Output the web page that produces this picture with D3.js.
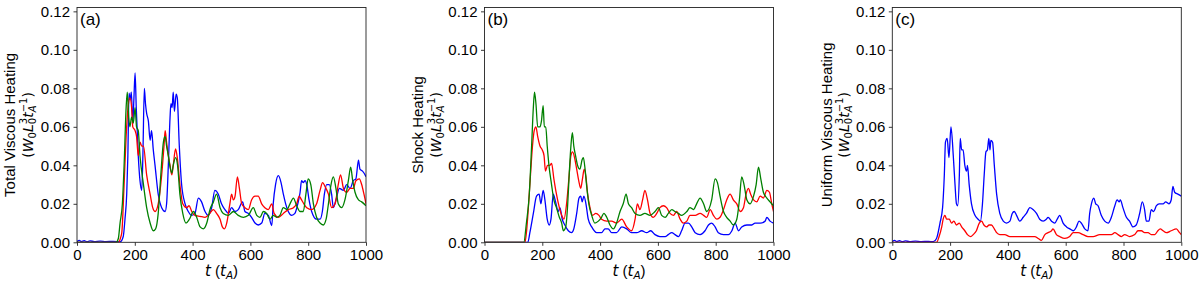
<!DOCTYPE html>
<html>
<head>
<meta charset="utf-8">
<script src="https://cdn.jsdelivr.net/npm/d3@7"></script>
<style>
  body { margin: 0; background: #fff; }
  svg { display: block; }
  text { font-family: "Liberation Sans", Arial, sans-serif; fill: #000; }
</style>
</head>
<body>
<svg id="chart"></svg>
<script>
(function(d3) {
  "use strict";

  /***** Données *****/
  var xTicks = [0, 200, 400, 600, 800, 1000];
  var yTicks = [0, 0.02, 0.04, 0.06, 0.08, 0.10, 0.12];
  var panelTags = ["(a)", "(b)", "(c)"];
  var panelTitles = ["Total Viscous Heating", "Shock Heating", "Uniform Viscous Heating"];

  var totalBlue = [[0,0.0003],[8,0.001],[15,0.0004],[25,0.0008],[35,0.0003],[45,0.0007],[60,0.0004],[80,0.0006],[100,0.0004],[125,0.0005],[150,0.0003],[160,0.003],[166,0.012],[172,0.025],[176,0.045],[180,0.0775],[184,0.074],[188,0.078],[193,0.062],[197,0.075],[201,0.088],[205,0.07],[212,0.045],[218,0.032],[224,0.027],[228,0.045],[233,0.080],[237,0.072],[241,0.067],[247,0.063],[253,0.053],[258,0.058],[264,0.048],[270,0.040],[281,0.025],[293,0.018],[305,0.016],[310,0.020],[316,0.040],[322,0.065],[325,0.072],[329,0.070],[333,0.078],[337,0.068],[343,0.077],[347,0.075],[354,0.050],[362,0.030],[374,0.020],[385,0.016],[397,0.014],[408,0.015],[420,0.023],[431,0.021],[443,0.016],[454,0.014],[466,0.018],[477,0.027],[489,0.025],[500,0.020],[512,0.017],[524,0.015],[535,0.018],[547,0.016],[558,0.017],[573,0.021],[581,0.016],[593,0.015],[604,0.013],[616,0.010],[627,0.009],[639,0.010],[650,0.015],[662,0.014],[674,0.0087],[679,0.020],[687,0.030],[697,0.0346],[706,0.031],[714,0.025],[722,0.020],[731,0.016],[743,0.014],[754,0.015],[764,0.020],[772,0.026],[777,0.032],[783,0.031],[789,0.032],[795,0.030],[803,0.022],[812,0.016],[829,0.012],[841,0.012],[849,0.016],[856,0.025],[864,0.030],[873,0.030],[881,0.025],[887,0.018],[896,0.022],[908,0.028],[922,0.027],[933,0.030],[945,0.028],[956,0.032],[965,0.033],[974,0.0427],[979,0.038],[988,0.037],[997,0.035],[1000,0.034]];
  var totalRed = [[0,0],[145,0],[150,0.002],[155,0.005],[163,0.030],[170,0.055],[178,0.072],[183,0.075],[189,0.070],[193,0.060],[201,0.058],[206,0.055],[212,0.045],[218,0.052],[224,0.050],[230,0.050],[241,0.035],[253,0.025],[262,0.018],[270,0.016],[281,0.020],[293,0.035],[301,0.050],[305,0.058],[310,0.052],[316,0.045],[322,0.040],[328,0.035],[333,0.040],[341,0.0485],[347,0.044],[356,0.030],[366,0.020],[379,0.018],[388,0.019],[397,0.016],[408,0.014],[426,0.0135],[443,0.013],[454,0.014],[472,0.017],[483,0.015],[495,0.012],[503,0.008],[510,0.007],[518,0.010],[529,0.020],[535,0.025],[541,0.022],[547,0.024],[555,0.034],[562,0.028],[570,0.020],[581,0.018],[593,0.017],[604,0.022],[616,0.024],[627,0.024],[639,0.020],[650,0.018],[662,0.017],[674,0.020],[682,0.015],[697,0.013],[714,0.015],[731,0.017],[749,0.018],[760,0.020],[769,0.024],[777,0.022],[785,0.020],[795,0.018],[812,0.017],[829,0.020],[841,0.027],[850,0.031],[858,0.029],[870,0.025],[881,0.018],[893,0.020],[904,0.030],[912,0.035],[922,0.028],[933,0.026],[945,0.028],[956,0.028],[965,0.032],[977,0.033],[985,0.030],[993,0.025],[1000,0.020]];
  var totalGreen = [[0,0],[135,0],[143,0.002],[149,0.010],[157,0.020],[163,0.040],[170,0.070],[174,0.078],[179,0.065],[183,0.060],[189,0.065],[195,0.062],[201,0.070],[206,0.060],[212,0.058],[218,0.045],[230,0.030],[241,0.018],[253,0.010],[264,0.006],[272,0.007],[281,0.015],[290,0.035],[299,0.052],[305,0.055],[310,0.050],[316,0.045],[322,0.039],[328,0.036],[333,0.040],[341,0.044],[348,0.040],[356,0.025],[366,0.015],[377,0.010],[389,0.012],[403,0.016],[414,0.013],[426,0.008],[437,0.007],[449,0.010],[460,0.017],[472,0.021],[483,0.025],[495,0.018],[506,0.015],[524,0.014],[541,0.016],[558,0.014],[576,0.013],[593,0.014],[610,0.018],[622,0.014],[633,0.013],[645,0.016],[656,0.015],[668,0.012],[679,0.014],[691,0.013],[702,0.014],[714,0.018],[726,0.017],[737,0.020],[749,0.023],[760,0.019],[772,0.016],[783,0.016],[792,0.025],[800,0.033],[809,0.030],[818,0.020],[829,0.013],[841,0.010],[852,0.009],[862,0.012],[870,0.020],[879,0.030],[887,0.034],[896,0.028],[904,0.020],[916,0.018],[927,0.022],[939,0.032],[947,0.039],[954,0.032],[962,0.026],[974,0.022],[985,0.021],[1000,0.019]];

  var shockBlue = [[0,0],[150,0],[157,0.005],[169,0.015],[180,0.024],[189,0.025],[195,0.020],[203,0.027],[209,0.022],[217,0.012],[224,0.009],[230,0.012],[238,0.025],[246,0.021],[255,0.016],[261,0.018],[269,0.012],[278,0.009],[290,0.006],[301,0.005],[309,0.007],[319,0.015],[327,0.023],[333,0.024],[338,0.021],[344,0.024],[351,0.020],[359,0.012],[371,0.008],[388,0.005],[405,0.005],[417,0.007],[428,0.007],[440,0.005],[457,0.005],[475,0.008],[492,0.007],[509,0.005],[527,0.005],[544,0.006],[561,0.005],[575,0.006],[590,0.004],[607,0.003],[625,0.003],[636,0.004],[648,0.005],[659,0.004],[671,0.003],[682,0.006],[694,0.010],[706,0.010],[717,0.008],[729,0.005],[746,0.004],[763,0.006],[775,0.009],[786,0.010],[798,0.008],[809,0.005],[827,0.004],[844,0.004],[856,0.006],[867,0.010],[879,0.006],[890,0.008],[908,0.009],[925,0.009],[936,0.010],[954,0.010],[971,0.011],[977,0.013],[988,0.011],[1000,0.010]];
  var shockRed = [[0,0],[140,0],[145,0.005],[157,0.030],[166,0.050],[172,0.058],[178,0.060],[184,0.055],[192,0.050],[200,0.048],[206,0.045],[211,0.037],[218,0.040],[226,0.040],[232,0.041],[240,0.033],[249,0.025],[259,0.018],[267,0.014],[275,0.012],[284,0.020],[293,0.035],[299,0.045],[305,0.047],[313,0.043],[319,0.038],[326,0.032],[333,0.028],[339,0.033],[345,0.038],[351,0.034],[357,0.025],[365,0.018],[374,0.014],[385,0.015],[396,0.014],[405,0.012],[423,0.011],[440,0.011],[457,0.010],[475,0.012],[492,0.008],[509,0.006],[521,0.012],[529,0.020],[538,0.017],[547,0.022],[555,0.027],[564,0.022],[573,0.015],[584,0.013],[596,0.015],[607,0.018],[619,0.019],[630,0.018],[642,0.015],[654,0.014],[665,0.016],[677,0.012],[688,0.010],[700,0.011],[711,0.014],[729,0.014],[746,0.015],[758,0.014],[769,0.013],[781,0.017],[792,0.014],[804,0.012],[815,0.013],[827,0.017],[838,0.022],[850,0.025],[861,0.022],[873,0.020],[885,0.016],[896,0.018],[905,0.025],[913,0.028],[921,0.025],[931,0.022],[942,0.021],[954,0.024],[965,0.023],[977,0.027],[986,0.026],[994,0.020],[1000,0.016]];
  var shockGreen = [[0,0],[136,0],[145,0.010],[155,0.025],[163,0.050],[169,0.070],[173,0.078],[178,0.072],[184,0.060],[192,0.060],[197,0.063],[203,0.071],[207,0.060],[212,0.060],[217,0.050],[223,0.040],[232,0.030],[240,0.022],[249,0.018],[259,0.013],[267,0.010],[273,0.006],[281,0.008],[288,0.020],[293,0.035],[299,0.050],[304,0.057],[309,0.050],[315,0.045],[322,0.040],[330,0.038],[338,0.043],[342,0.044],[348,0.038],[353,0.030],[361,0.020],[371,0.014],[382,0.010],[394,0.011],[405,0.013],[413,0.015],[423,0.013],[434,0.009],[446,0.007],[457,0.010],[469,0.016],[480,0.020],[490,0.025],[498,0.020],[509,0.018],[521,0.015],[538,0.014],[555,0.015],[573,0.014],[590,0.016],[602,0.018],[613,0.014],[625,0.013],[636,0.015],[648,0.017],[659,0.016],[671,0.015],[682,0.014],[700,0.016],[711,0.018],[723,0.017],[734,0.020],[746,0.023],[758,0.020],[769,0.016],[786,0.022],[798,0.033],[806,0.031],[815,0.024],[827,0.016],[838,0.013],[850,0.011],[861,0.009],[873,0.012],[882,0.022],[890,0.034],[898,0.030],[908,0.022],[919,0.020],[931,0.024],[940,0.030],[948,0.039],[956,0.033],[965,0.026],[977,0.023],[988,0.021],[1000,0.019]];

  var uniformBlue = [[0,0.0003],[8,0.001],[15,0.0004],[25,0.0008],[35,0.0003],[45,0.0007],[60,0.0004],[80,0.0006],[100,0.0004],[125,0.0005],[142,0.0003],[153,0.002],[165,0.010],[174,0.018],[180,0.035],[184,0.052],[190,0.054],[196,0.044],[203,0.060],[211,0.045],[217,0.030],[222,0.020],[226,0.019],[232,0.035],[235,0.054],[240,0.048],[245,0.048],[251,0.040],[257,0.037],[260,0.040],[266,0.030],[274,0.020],[286,0.014],[297,0.012],[305,0.011],[312,0.020],[318,0.035],[324,0.047],[329,0.048],[334,0.054],[338,0.048],[341,0.053],[347,0.052],[353,0.040],[361,0.025],[372,0.015],[384,0.011],[395,0.010],[407,0.011],[415,0.015],[422,0.016],[430,0.014],[441,0.011],[453,0.013],[464,0.015],[476,0.018],[487,0.017],[499,0.015],[510,0.012],[522,0.011],[533,0.012],[539,0.013],[551,0.011],[562,0.010],[574,0.013],[579,0.014],[591,0.010],[603,0.008],[614,0.007],[626,0.006],[637,0.008],[646,0.011],[654,0.010],[666,0.007],[677,0.006],[683,0.015],[689,0.020],[697,0.023],[704,0.020],[712,0.019],[723,0.014],[735,0.011],[747,0.010],[758,0.013],[770,0.019],[778,0.022],[785,0.021],[789,0.022],[798,0.018],[810,0.013],[821,0.011],[833,0.008],[844,0.009],[856,0.015],[865,0.021],[873,0.017],[879,0.011],[888,0.011],[896,0.017],[904,0.016],[914,0.019],[923,0.020],[937,0.020],[946,0.021],[957,0.020],[965,0.022],[971,0.029],[977,0.026],[988,0.025],[1000,0.024]];
  var uniformRed = [[0,0],[153,0],[162,0.003],[171,0.008],[176,0.012],[182,0.014],[188,0.012],[197,0.012],[205,0.010],[213,0.011],[222,0.009],[232,0.010],[240,0.008],[251,0.006],[260,0.004],[271,0.003],[280,0.004],[291,0.006],[301,0.010],[309,0.011],[317,0.009],[326,0.008],[335,0.009],[343,0.009],[353,0.007],[361,0.005],[372,0.004],[389,0.004],[407,0.003],[430,0.003],[453,0.003],[476,0.003],[493,0.003],[505,0.002],[516,0.001],[528,0.004],[539,0.005],[551,0.006],[556,0.007],[568,0.004],[579,0.003],[597,0.002],[614,0.003],[626,0.005],[643,0.005],[660,0.004],[677,0.003],[695,0.003],[718,0.004],[741,0.004],[758,0.004],[770,0.005],[781,0.004],[793,0.003],[804,0.004],[821,0.003],[839,0.004],[850,0.006],[862,0.006],[873,0.005],[885,0.005],[896,0.004],[908,0.004],[919,0.006],[927,0.007],[937,0.006],[948,0.005],[965,0.006],[983,0.007],[994,0.005],[1000,0.004]];

  /***** Configuration *****/
  var width = 1200, height = 284;
  var panelLeft = [77, 484.5, 892.3];
  var panelW = 289;
  var top = 7.5, bottom = 242.3;
  var yMax = 0.1220;

  var colors = { blue: "#0000ff", red: "#ff0000", green: "#008000" };

  var panels = [
    { tag: panelTags[0], title: panelTitles[0], labelX: [15, 33],
      series: [[totalBlue, colors.blue], [totalRed, colors.red], [totalGreen, colors.green]] },
    { tag: panelTags[1], title: panelTitles[1], labelX: [423, 441],
      series: [[shockBlue, colors.blue], [shockRed, colors.red], [shockGreen, colors.green]] },
    { tag: panelTags[2], title: panelTitles[2], labelX: [832, 849],
      series: [[uniformBlue, colors.blue], [uniformRed, colors.red]] }
  ];

  var svg = d3.select("#chart").attr("width", width).attr("height", height);

  var y = d3.scaleLinear().domain([0, yMax]).range([bottom, top]);
  var yc = (top + bottom) / 2;

  panels.forEach(function(p, i) {
    var x = d3.scaleLinear().domain([0, 1000]).range([panelLeft[i], panelLeft[i] + panelW]);
    var g = svg.append("g");

    g.append("clipPath").attr("id", "clip" + i)
      .append("rect")
      .attr("x", panelLeft[i]).attr("y", top)
      .attr("width", panelW).attr("height", bottom - top);

    // Courbes
    var line = d3.line()
      .x(function(d) { return x(d[0]); })
      .y(function(d) { return y(d[1]); })
      .curve(d3.curveMonotoneX);

    p.series.forEach(function(s) {
      g.append("path")
        .datum(s[0])
        .attr("clip-path", "url(#clip" + i + ")")
        .attr("fill", "none")
        .attr("stroke", s[1])
        .attr("stroke-width", 1.3)
        .attr("d", line);
    });

    // Axes
    var xAxis = d3.axisBottom(x).tickValues(xTicks).tickFormat(d3.format("d")).tickSize(3.5).tickSizeOuter(0).tickPadding(3.5);
    var yAxis = d3.axisLeft(y).tickValues(yTicks).tickFormat(d3.format(".2f")).tickSize(3.5).tickSizeOuter(0).tickPadding(3.5);

    var gx = g.append("g").attr("transform", "translate(0," + bottom + ")").call(xAxis);
    var gy = g.append("g").attr("transform", "translate(" + panelLeft[i] + ",0)").call(yAxis);
    [gx, gy].forEach(function(a) {
      a.select(".domain").remove();
      a.selectAll("line").attr("stroke", "#222").attr("stroke-width", 0.9);
      a.selectAll("text").style("font-size", "15px").style("font-family", "'Liberation Sans', Arial, sans-serif").attr("fill", "#000");
    });

    // Cadre
    g.append("rect")
      .attr("x", panelLeft[i]).attr("y", top)
      .attr("width", panelW).attr("height", bottom - top)
      .attr("fill", "none").attr("stroke", "#222").attr("stroke-width", 0.9);

    // Étiquette du panneau
    g.append("text")
      .attr("x", panelLeft[i] + 3).attr("y", top + 17)
      .style("font-size", "17px")
      .text(p.tag);

    // Titre de l'axe x : t (t_A)
    var xl = g.append("text")
      .attr("x", panelLeft[i] + panelW / 2).attr("y", 276)
      .attr("text-anchor", "middle")
      .style("font-size", "15px");
    xl.append("tspan").style("font-family", "'DejaVu Sans'").style("font-style", "italic").text("t");
    xl.append("tspan").text(" (");
    xl.append("tspan").style("font-family", "'DejaVu Sans'").style("font-style", "italic").text("t");
    xl.append("tspan").style("font-family", "'DejaVu Sans'").style("font-style", "italic").style("font-size", "10.5px").attr("dy", 3).text("A");
    xl.append("tspan").attr("dy", -3).text(")");

    // Titre de l'axe y, deux lignes
    g.append("text")
      .attr("transform", "translate(" + p.labelX[0] + "," + yc + ") rotate(-90)")
      .attr("text-anchor", "middle")
      .style("font-size", "15px")
      .text(p.title);

    var yl = g.append("text")
      .attr("transform", "translate(" + p.labelX[1] + "," + yc + ") rotate(-90)")
      .attr("text-anchor", "middle")
      .style("font-size", "14px")
      .style("font-family", "'DejaVu Sans'");
    function part(txt, italic, small, dy) {
      var t = yl.append("tspan").text(txt);
      if (italic) t.style("font-style", "italic");
      if (small) t.style("font-size", "10px");
      if (dy) t.attr("dy", dy);
      return t;
    }
    part("(", false, false, 0);
    part("W", true, false, 0);
    part("0", false, true, 3);
    part("L", true, false, -3);
    var s0 = part("0", false, true, 3);
    var s3 = part("3", false, true, -9);
    part("t", true, false, 6);
    var sA = part("A", true, true, 3);
    var sM = part("\u22121", false, true, -9);
    part(")", false, false, 6);
    s3.attr("dx", -s0.node().getComputedTextLength());
    sM.attr("dx", -sA.node().getComputedTextLength());
  });
})(d3);
</script>
</body>
</html>
